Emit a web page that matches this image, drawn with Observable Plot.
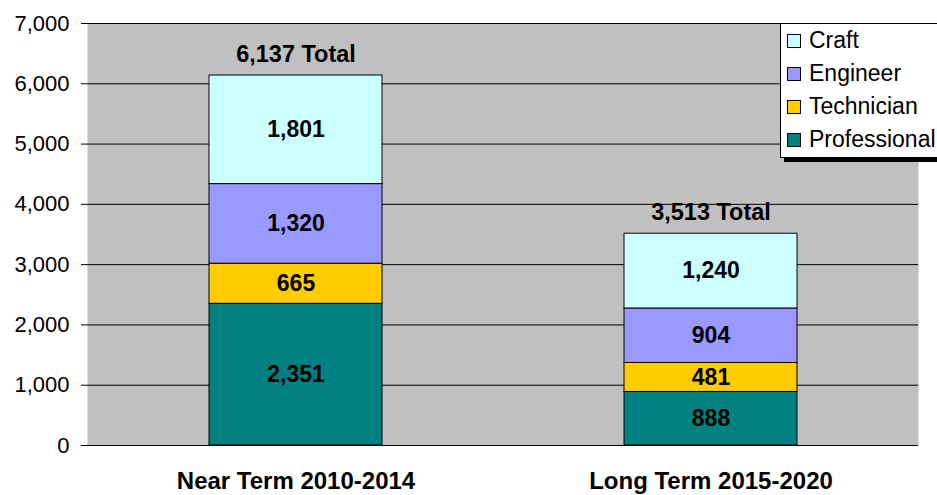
<!DOCTYPE html>
<html><head><meta charset="utf-8">
<script src="https://cdn.jsdelivr.net/npm/d3@7"></script>
<script src="https://cdn.jsdelivr.net/npm/@observablehq/plot@0.6"></script>
<style>
body{margin:0;background:#fff;font-family:"Liberation Sans",Arial,sans-serif;}
#wrap{position:relative;width:937px;height:495px;overflow:hidden;}
#legend{position:absolute;left:780px;top:23px;width:170px;height:133px;background:#fff;border:1px solid #000;box-shadow:4px 4px 0 #000;font-size:23px;}
#legend .it{position:absolute;left:6px;height:26px;line-height:26px;white-space:nowrap;}
#legend .sw{display:inline-block;width:12px;height:12px;border:1px solid #000;margin-right:8px;vertical-align:0px;}
</style></head><body>
<div id="wrap"><div id="chart"></div><div id="legend"></div></div>
<script>
const periods = ["Near Term 2010-2014", "Long Term 2015-2020"];
const series = ["Professional", "Technician", "Engineer", "Craft"];
const colors = ["#008080", "#FFCC00", "#9999FF", "#CCFFFF"];
const professional = [2351, 888];
const technician = [665, 481];
const engineer = [1320, 904];
const craft = [1801, 1240];
const totals = [6137, 3513];
const yTicks = [0, 1000, 2000, 3000, 4000, 5000, 6000, 7000];

const vals = [professional, technician, engineer, craft];
const data = [];
periods.forEach((p, i) => {
  let base = 0;
  series.forEach((s, j) => {
    const v = vals[j][i];
    data.push({period: p, series: s, value: v, y1: base, y2: base + v, mid: base + v / 2});
    base += v;
  });
});
const totData = periods.map((p, i) => ({period: p, total: totals[i]}));

const fmt = d3.format(",");
const chart = Plot.plot({
  width: 937, height: 495,
  marginLeft: 87, marginRight: 19, marginTop: 23, marginBottom: 50,
  style: {fontFamily: "'Liberation Sans', Arial, sans-serif", fontSize: "22px", background: "transparent"},
  x: {domain: periods, paddingInner: 0.584, paddingOuter: 0.292, label: null},
  y: {domain: [0, 7000], label: null},
  color: {domain: series, range: colors},
  marks: [
    Plot.frame({fill: "#C0C0C0", stroke: "none"}),
    Plot.gridY(yTicks, {stroke: "#000", strokeOpacity: 1, strokeWidth: 1}),
    Plot.barY(data, {x: "period", y1: "y1", y2: "y2", fill: "series", stroke: "#000", strokeWidth: 1}),
    Plot.text(data, {x: "period", y: "mid", text: d => fmt(d.value), fontWeight: "bold", fontSize: 23, fill: "#000"}),
    Plot.text(totData, {x: "period", y: "total", text: d => fmt(d.total) + " Total", dy: -21, fontWeight: "bold", fontSize: 23.5, fill: "#000"}),
    Plot.ruleX([0], {frameAnchor: "left", stroke: "#000"}),
    Plot.ruleY([0], {stroke: "#000"}),
    Plot.axisY(yTicks, {tickFormat: fmt, tickSize: 6, tickPadding: 12, fontSize: 22, fill: "#000", stroke: "#000"}),
    Plot.axisX({tickSize: 0, tickPadding: 26, fontSize: 24, fontWeight: "bold", fill: "#000"})
  ]
});
document.getElementById("chart").appendChild(chart);

const legend = document.getElementById("legend");
const order = [3, 2, 1, 0];
order.forEach((j, k) => {
  const d = document.createElement("div");
  d.className = "it";
  d.style.top = (3 + k * 33) + "px";
  d.innerHTML = `<span class="sw" style="background:${colors[j]}"></span>${series[j]}`;
  legend.appendChild(d);
});
</script>
</body></html>
